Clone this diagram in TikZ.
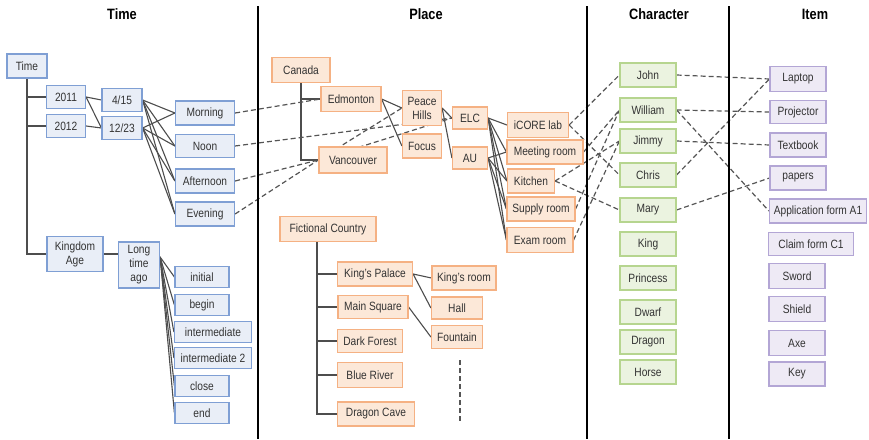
\documentclass[tikz,border=0pt]{standalone}
\usepackage{fontspec}
\setmainfont{Liberation Sans}[FakeStretch=0.85]
\usetikzlibrary{backgrounds}
\definecolor{tfill}{HTML}{E9EEF7}
\definecolor{tborder}{HTML}{7F9FD4}
\definecolor{pfill}{HTML}{FCE8D8}
\definecolor{pborder}{HTML}{F5B183}
\definecolor{cfill}{HTML}{EBF3E0}
\definecolor{cborder}{HTML}{B6D58F}
\definecolor{ifill}{HTML}{EEEAF5}
\definecolor{iborder}{HTML}{B3A6D5}
\definecolor{linec}{HTML}{4D4D4D}
\definecolor{dashc}{HTML}{555555}
\definecolor{txt}{HTML}{333333}
\begin{document}
\begin{tikzpicture}[x=1pt,y=-1pt,
  box/.style={draw, line width=1.2pt, inner sep=0pt, minimum height=24pt,
    align=center, text=txt, font=\fontsize{12}{14}\selectfont},
  tbox/.style={box, draw=tborder, fill=tfill},
  pbox/.style={box, draw=pborder, fill=pfill},
  cbox/.style={box, draw=cborder, fill=cfill, minimum width=56pt},
  ibox/.style={box, draw=iborder, fill=ifill},
  w/.style={minimum width=#1pt},
  h/.style={minimum height=#1pt},
  link/.style={draw=linec, line width=1.1pt},
  ref/.style={draw=dashc, line width=1.2pt, dash pattern=on 5pt off 3pt},
  head/.style={text=black, font=\fontsize{15}{16}\bfseries\selectfont},
  divider/.style={line width=1.8pt}
]
\useasboundingbox (0,0) rectangle (869,439);

% column headings and separators
\node[head] (hTime) at (122,14) {Time};
\node[head] (hPlace) at (426,14) {Place};
\node[head] (hChar) at (659,14) {Character};
\node[head] (hItem) at (815,14) {Item};
\coordinate (s1t) at (258,6);   \coordinate (s1b) at (258,439);
\coordinate (s2t) at (587,6);   \coordinate (s2b) at (587,439);
\coordinate (s3t) at (729,6);   \coordinate (s3b) at (729,439);
\draw[divider] (s1t) -- (s1b);
\draw[divider] (s2t) -- (s2b);
\draw[divider] (s3t) -- (s3b);

% ---- Time ----
\node[tbox, w=40] (time) at (27,66) {Time};
\node[tbox, w=39, h=23] (y2011) at (66,97) {2011};
\node[tbox, w=39, h=23] (y2012) at (66,126) {2012};
\node[tbox, w=40, h=23] (d415) at (122,100) {4/15};
\node[tbox, w=40, h=23] (d1223) at (122,128) {12/23};
\node[tbox, w=59] (morning) at (205,113) {Morning};
\node[tbox, w=59, h=23] (noon) at (205,146) {Noon};
\node[tbox, w=59] (afternoon) at (205,181) {Afternoon};
\node[tbox, w=59] (evening) at (205,214) {Evening};
\node[tbox, w=56, h=35] (kingdom) at (75,254) {Kingdom\\Age};
\node[tbox, w=41, h=46] (longago) at (139,265) {Long\\time\\ago};
\node[tbox, w=54, h=21] (initial) at (202,277) {initial};
\node[tbox, w=54, h=21] (begin) at (202,305) {begin};
\node[tbox, w=77, h=21] (inter) at (213,332) {intermediate};
\node[tbox, w=77, h=21] (intertwo) at (213,358) {intermediate 2};
\node[tbox, w=54, h=21] (close) at (202,386) {close};
\node[tbox, w=54, h=21] (end) at (202,413) {end};

% ---- Place ----
\node[pbox, w=58, h=25] (canada) at (301,70) {Canada};
\node[pbox, w=60, h=25] (edmonton) at (351,99) {Edmonton};
\node[pbox, w=68, h=26] (vancouver) at (353,160) {Vancouver};
\node[pbox, w=39, h=35] (peace) at (422,108) {Peace\\Hills};
\node[pbox, w=39] (focus) at (422,146) {Focus};
\node[pbox, w=35, h=22] (elc) at (470,118) {ELC};
\node[pbox, w=35, h=22] (au) at (470,158) {AU};
\node[pbox, w=61, h=25] (icore) at (538,125) {iCORE lab};
\node[pbox, w=76] (meeting) at (545,152) {Meeting room};
\node[pbox, w=47] (kitchen) at (531,181) {Kitchen};
\node[pbox, w=68] (supply) at (541,209) {Supply room};
\node[pbox, w=66, h=25] (exam) at (540,240) {Exam room};
\node[pbox, w=96, h=25] (fictional) at (328,229) {Fictional Country};
\node[pbox, w=75] (palace) at (375,274) {King's Palace};
\node[pbox, w=70, h=23] (square) at (373,307) {Main Square};
\node[pbox, w=65, h=23] (forest) at (370,341) {Dark Forest};
\node[pbox, w=65, h=25] (river) at (370,375) {Blue River};
\node[pbox, w=77] (cave) at (376,414) {Dragon Cave};
\node[pbox, w=64] (kroom) at (464,278) {King's room};
\node[pbox, w=51, h=22] (hall) at (457,308) {Hall};
\node[pbox, w=51, h=23] (fountain) at (457,337) {Fountain};
\coordinate (moreTop) at (460,360);
\coordinate (moreBot) at (460,421);

% ---- Character ----
\node[cbox] (john) at (648,75) {John};
\node[cbox] (william) at (648,110) {William};
\node[cbox] (jimmy) at (648,141) {Jimmy};
\node[cbox] (chris) at (648,175) {Chris};
\node[cbox] (mary) at (648,210) {Mary};
\node[cbox] (king) at (648,244) {King};
\node[cbox] (princess) at (648,278) {Princess};
\node[cbox] (dwarf) at (648,312) {Dwarf};
\node[cbox] (dragon) at (648,342) {Dragon};
\node[cbox] (horse) at (648,372) {Horse};

% ---- Item ----
\node[ibox, w=56, h=25] (laptop) at (798,79) {Laptop};
\node[ibox, w=56, h=23] (projector) at (798,112) {Projector};
\node[ibox, w=56] (textbook) at (798,145) {Textbook};
\node[ibox, w=56] (papers) at (798,178) {papers};
\node[ibox, w=97] (appform) at (818,211) {Application form A1};
\node[ibox, w=85, h=23] (claim) at (811,244) {Claim form C1};
\node[ibox, w=56, h=25] (sword) at (797,276) {Sword};
\node[ibox, w=56, h=25] (shield) at (797,309) {Shield};
\node[ibox, w=56, h=25] (axe) at (797,343) {Axe};
\node[ibox, w=56] (key) at (797,374) {Key};

\begin{pgfonlayer}{background}
% time hierarchy
\draw[link] (time.south) |- (kingdom.west);
\draw[link] (time.south |- y2011.west) -- (y2011.west);
\draw[link] (time.south |- y2012.west) -- (y2012.west);
\draw[link] (y2011.east) -- (d415.west);
\draw[link] (y2011.east) -- (d1223.west);
\draw[link] (y2012.east) -- (d1223.west);
\foreach \d in {d415,d1223}
  \foreach \p in {morning,noon,afternoon,evening}
    \draw[link] (\d.east) -- (\p.west);
\draw[link] (kingdom.east) -- (longago.west |- kingdom.east);
\foreach \p in {initial,begin,inter,intertwo,close,end}
  \draw[link] ([yshift=8pt]longago.east) -- (\p.west);

% place hierarchy
\draw[link] (canada.south) |- (vancouver.west);
\draw[link] (canada.south |- edmonton.west) -- (edmonton.west);
\draw[link] (edmonton.east) -- (peace.west);
\draw[link] (edmonton.east) -- (focus.west);
\draw[link] (peace.east) -- (elc.west);
\draw[link] (peace.east) -- (au.west);
\foreach \r in {icore,meeting,kitchen,supply,exam}
  \draw[link] (elc.east) -- (\r.west);
\foreach \r in {meeting,kitchen,supply,exam}
  \draw[link] (au.east) -- (\r.west);
\draw[link] ([xshift=-11pt]fictional.south) |- (cave.west);
\foreach \r in {palace,square,forest,river}
  \draw[link] ([xshift=-11pt]fictional.south |- \r.west) -- (\r.west);
\draw[link] (palace.east) -- (kroom.west);
\draw[link] (palace.east) -- (hall.west);
\draw[link] (square.east) -- (fountain.west);
\draw[ref] (moreTop) -- (moreBot);

% time to place
\draw[ref] (morning.east) -- (edmonton.west);
\draw[ref] (noon.east) -- (elc.west);
\draw[ref] (afternoon.east) -- (vancouver.west) -- (elc.west);
\draw[ref] (evening.east) -- (vancouver.west) -- (peace.west);

% place to character
\draw[ref] (icore.east) -- (john.west);
\draw[ref] (icore.east) -- (chris.west);
\draw[ref] (meeting.east) -- (william.west);
\draw[ref] (kitchen.east) -- (jimmy.west);
\draw[ref] (kitchen.east) -- (mary.west);
\draw[ref] (supply.east) -- (william.west);
\draw[ref] (exam.east) -- (jimmy.west);

% character to item
\draw[ref] (john.east) -- (laptop.west);
\draw[ref] (william.east) -- (projector.west);
\draw[ref] (william.east) -- (appform.west);
\draw[ref] (jimmy.east) -- (textbook.west);
\draw[ref] (chris.east) -- (laptop.west);
\draw[ref] (mary.east) -- (papers.west);
\end{pgfonlayer}
\end{tikzpicture}
\end{document}
